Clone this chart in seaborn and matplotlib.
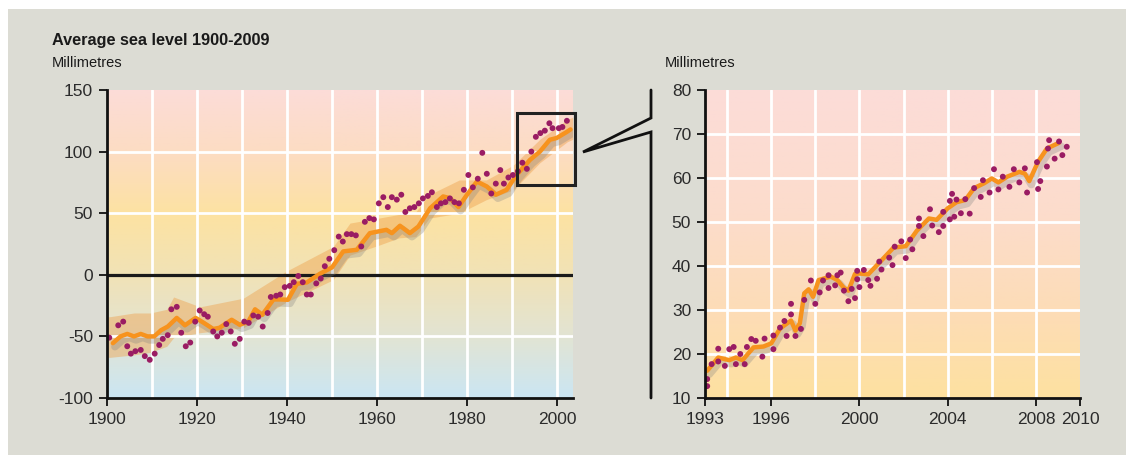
import numpy as np
import matplotlib
matplotlib.use('Agg')
import matplotlib.pyplot as plt
import matplotlib.patheffects as pe
from matplotlib.colors import LinearSegmentedColormap
from matplotlib.lines import Line2D
from matplotlib.patches import Rectangle
import seaborn as sns

sns.set_theme(style='white')
plt.rcParams['font.family'] = ['Liberation Sans', 'DejaVu Sans']
plt.rcParams['axes.unicode_minus'] = False

# ---------------- data: left panel (1900-2003) ----------------
gauge_years = [1900.5, 1902.5, 1903.6, 1904.5, 1905.3, 1906.3, 1907.5, 1908.4, 1909.5, 1910.6,
               1911.6, 1912.4, 1913.5, 1914.3, 1915.5, 1916.5, 1917.5, 1918.5, 1919.6, 1920.6,
               1921.6, 1922.4, 1923.6, 1924.5, 1925.5, 1926.5, 1927.5, 1928.4, 1929.5, 1930.5,
               1931.5, 1932.5, 1933.6, 1934.6, 1935.7, 1936.4, 1937.6, 1938.5, 1939.5, 1940.6,
               1941.5, 1942.5, 1943.5, 1944.4, 1945.3, 1946.5, 1947.5, 1948.4, 1949.4, 1950.5,
               1951.5, 1952.4, 1953.3, 1954.3, 1955.3, 1956.5, 1957.3, 1958.3, 1959.3, 1960.4,
               1961.4, 1962.4, 1963.3, 1964.4, 1965.4, 1966.3, 1967.3, 1968.3, 1969.3, 1970.2,
               1971.3, 1972.2, 1973.3, 1974.2, 1975.2, 1976.2, 1977.2, 1978.2, 1979.3, 1980.3,
               1981.3, 1982.4, 1983.4, 1984.4, 1985.4, 1986.4, 1987.4, 1988.2, 1989.2, 1990.2,
               1991.3, 1992.3, 1993.3, 1994.3, 1995.3, 1996.3, 1997.3, 1998.3, 1999.0, 2000.4,
               2001.2, 2002.2]
gauge_mm = [-51, -41, -38, -58, -64, -62, -61, -66, -69, -64,
            -57, -52, -49, -28, -26, -47, -58, -55, -38, -29,
            -32, -34, -46, -50, -47, -40, -46, -56, -52, -38,
            -39, -33, -34, -42, -31, -18, -17, -16, -10, -9,
            -6, -1, -6, -16, -16, -7, -3, 7, 13, 20,
            31, 27, 33, 33, 32, 23, 43, 46, 45, 58,
            63, 55, 63, 61, 65, 51, 54, 55, 58, 62,
            64, 67, 55, 58, 59, 62, 59, 58, 69, 81,
            71, 78, 99, 82, 66, 74, 85, 74, 79, 81,
            84, 91, 86, 100, 112, 115, 117, 123, 119, 119,
            120, 125]

smooth_years = [1901.3, 1903, 1904.5, 1906, 1907.5, 1909, 1910.5, 1912, 1913.5, 1915.5,
                1917.3, 1919.7, 1921.5, 1923.6, 1925, 1927.7, 1929.5, 1931.4, 1932.9, 1934.5,
                1937, 1938.5, 1940.2, 1942.2, 1944.4, 1947.3, 1950, 1952.5, 1955.5, 1958.4,
                1960, 1962.1, 1963.3, 1965.1, 1967.3, 1969.2, 1971.8, 1974.7, 1976.2, 1978.1,
                1980, 1982.2, 1984.4, 1986.4, 1988.8, 1991, 1994, 1996.2, 1998.4, 1999.9,
                2002.1, 2003]
smooth_mm = [-55.5, -50, -48, -50, -48, -50, -50, -45, -42, -35,
             -41, -35, -39, -44, -43, -36.5, -40.6, -38, -28, -32.5,
             -20, -20, -20.3, -7.3, -6.2, 0.8, 6, 19, 20.3, 33.8,
             35, 36.5, 33.8, 39.8, 33.8, 39.2, 54, 63.6, 62.2, 55,
             65, 75.7, 71.7, 65, 69, 81, 93.3, 100, 109.6, 111,
             115.8, 118]

band_years = [1900, 1900.7, 1906, 1909.6, 1913.3, 1914.8, 1920.7, 1930.3, 1939.9, 1950.3,
              1954, 1960.4, 1964.9, 1968.6, 1971.6, 1978.3, 1984.3, 1990.3, 1996.2, 2002.3, 2003.5]
band_hi = [-34, -34, -31, -31, -28, -18, -26, -19, 3, 23,
           42, 46, 49, 51, 65, 77, 77, 89, 110, 126, 128]
band_lo = [-67, -67, -65, -63, -58, -51, -47, -43, -22, -4,
           16, 24, 30, 31, 46, 50, 61, 69, 91, 108, 110]

# ---------------- data: right panel (satellite 1993-2009) ----------------
sat_years = [1993.1, 1993.1, 1993.3, 1993.6, 1993.6, 1993.9, 1994.1, 1994.3, 1994.4, 1994.6,
             1994.8, 1994.9, 1995.1, 1995.3, 1995.6, 1995.7, 1996.1, 1996.1, 1996.4, 1996.6,
             1996.7, 1996.9, 1996.9, 1997.1, 1997.35, 1997.5, 1997.8, 1998.0, 1998.2, 1998.35,
             1998.6, 1998.6, 1998.9, 1999.0, 1999.15, 1999.3, 1999.5, 1999.65, 1999.8, 1999.9,
             1999.9, 2000.0, 2000.2, 2000.4, 2000.5, 2000.8, 2000.9, 2001.0, 2001.35, 2001.5,
             2001.6, 2001.9, 2002.1, 2002.3, 2002.4, 2002.7, 2002.7, 2002.9, 2003.2, 2003.3,
             2003.6, 2003.8, 2003.8, 2004.1, 2004.1, 2004.2, 2004.3, 2004.4, 2004.6, 2004.8,
             2005.0, 2005.2, 2005.5, 2005.6, 2005.9, 2006.1, 2006.3, 2006.5, 2006.8, 2007.0,
             2007.25, 2007.5, 2007.6, 2008.05, 2008.1, 2008.2, 2008.5, 2008.55, 2008.6, 2008.85,
             2009.05, 2009.2, 2009.4]
sat_mm = [14.3, 12.7, 17.7, 18.3, 21.2, 17.3, 21.1, 21.6, 17.7, 20.0,
          17.7, 21.6, 23.4, 23.0, 19.4, 23.5, 24.2, 21.1, 26.0, 27.5,
          24.1, 29.0, 31.4, 24.1, 25.7, 32.3, 36.7, 31.4, 34.0, 36.7,
          35.0, 37.9, 35.6, 37.9, 38.5, 34.4, 32.0, 34.8, 32.7, 37.0,
          38.9, 35.2, 39.1, 36.8, 35.5, 37.1, 41.0, 39.2, 41.9, 40.2,
          44.4, 45.6, 41.8, 46.0, 43.8, 49.1, 50.8, 46.8, 52.9, 49.2,
          47.7, 49.1, 52.3, 50.6, 54.8, 56.4, 51.2, 55.1, 52.0, 55.2,
          51.9, 57.7, 55.7, 59.5, 56.7, 62.0, 57.4, 60.3, 58.0, 62.0,
          59.0, 62.2, 56.7, 63.6, 57.5, 59.3, 62.6, 66.7, 68.6, 64.4,
          68.3, 65.2, 67.1]

sat_smooth_years = [1993.1, 1993.6, 1994.1, 1994.4, 1994.7, 1995.2, 1995.65, 1996.0, 1996.4, 1996.9,
                    1997.1, 1997.3, 1997.5, 1997.7, 1997.9, 1998.15, 1998.7, 1999.0, 1999.3, 1999.5,
                    1999.8, 2000.0, 2000.4, 2000.95, 2001.55, 2002.1, 2002.6, 2003.15, 2003.5, 2004.0,
                    2004.4, 2004.8, 2005.2, 2005.65, 2006.0, 2006.3, 2006.7, 2007.25, 2007.5, 2007.7,
                    2008.1, 2008.5, 2009.05]
sat_smooth_mm = [16.2, 19.2, 18.6, 19.2, 18.6, 21.5, 21.7, 22.4, 25.8, 27.6,
                 25.3, 27.0, 33.8, 34.7, 33.0, 36.8, 37.6, 36.8, 35.0, 34.4,
                 38.2, 38.3, 38.1, 41.0, 44.2, 44.5, 48.0, 50.8, 50.5, 53.1,
                 54.5, 55.0, 57.7, 58.8, 59.9, 59.0, 60.3, 61.4, 61.0, 59.3,
                 63.7, 66.7, 68.0]

# axis ticks and grid positions
left_xticks = [1900, 1920, 1940, 1960, 1980, 2000]
left_xgrid = [1910, 1920, 1930, 1940, 1950, 1960, 1970, 1980, 1990, 2000]
left_yticks = [-100, -50, 0, 50, 100, 150]
left_ygrid = [-50, 50, 100]
right_xticks = [1993, 1996, 2000, 2004, 2008, 2010]
right_xgrid = [1994, 1996, 1998, 2000, 2002, 2004, 2006, 2008]
right_yticks = [10, 20, 30, 40, 50, 60, 70, 80]
right_ygrid = [20, 30, 40, 50, 60, 70]

# ---------------- style ----------------
DOT = '#9a1c63'
ORANGE = '#f7931e'
TXT = '#2b2b2b'
W, H = 1126, 455

left_cmap = LinearSegmentedColormap.from_list('left', [
    (0.0, '#cbe6f3'), (0.2, '#e2e4d3'), (0.4, '#f1e2b6'),
    (0.6, '#fde2a2'), (0.8, '#fcdcc3'), (1.0, '#fcdcd8')])
right_cmap = LinearSegmentedColormap.from_list('right', [
    (0.0, '#fde1a0'), (0.3, '#fddcb8'), (0.6, '#fcdccc'), (1.0, '#fcdcd8')])

shadow = [pe.SimpleLineShadow(offset=(1.5, -2.5), shadow_color='#808080', alpha=0.3, linewidth=5.5),
          pe.Normal()]

fig = plt.figure(figsize=(W / 100, H / 100), dpi=100)
fig.patch.set_facecolor('white')
fig.patches.append(Rectangle((8 / W, 0), 1 - 8 / W, 1 - 9 / H, transform=fig.transFigure,
                             facecolor='#dcdcd4', edgecolor='none', zorder=-10))

ax1 = fig.add_axes([107 / W, 57 / H, 466 / W, 308 / H])
ax2 = fig.add_axes([705 / W, 57 / H, 375 / W, 308 / H])

x1lim = (1900, 1900 + 466 / 4.5)
y1lim = (-100, 150)
x2lim = (1993, 2010)
y2lim = (10, 80)
grad = np.linspace(0, 1, 256).reshape(-1, 1)

# ---- left panel ----
ax1.imshow(grad, cmap=left_cmap, origin='lower', aspect='auto',
           extent=[x1lim[0], x1lim[1], y1lim[0], y1lim[1]], zorder=0)
ax1.fill_between(band_years, band_lo, band_hi, color='#eea24e', alpha=0.45, lw=0, zorder=1)
for gx in left_xgrid:
    ax1.axvline(gx, color='white', lw=2.0, zorder=2)
for gy in left_ygrid:
    ax1.axhline(gy, color='white', lw=2.0, zorder=2)
ax1.axhline(0, color='#1a1a1a', lw=2.3, zorder=3)
sns.lineplot(x=smooth_years, y=smooth_mm, ax=ax1, color=ORANGE, lw=3.2, sort=False,
             estimator=None, zorder=4, path_effects=shadow, solid_capstyle='round',
             solid_joinstyle='round')
sns.scatterplot(x=gauge_years, y=gauge_mm, ax=ax1, color=DOT, s=18, edgecolor='none',
                linewidth=0, zorder=5)
ax1.add_patch(Rectangle((1991.2, 73), 12.8, 58.5, fill=False, edgecolor='#222222', lw=2.2,
                        clip_on=False, zorder=6))
ax1.set_xlim(*x1lim)
ax1.set_ylim(*y1lim)
ax1.set_xticks(left_xticks)
ax1.set_yticks(left_yticks)

# ---- right panel ----
ax2.imshow(grad, cmap=right_cmap, origin='lower', aspect='auto',
           extent=[x2lim[0], x2lim[1], y2lim[0], y2lim[1]], zorder=0)
for gx in right_xgrid:
    ax2.axvline(gx, color='white', lw=2.0, zorder=2)
for gy in right_ygrid:
    ax2.axhline(gy, color='white', lw=2.0, zorder=2)
sns.lineplot(x=sat_smooth_years, y=sat_smooth_mm, ax=ax2, color=ORANGE, lw=3.2, sort=False,
             estimator=None, zorder=4, path_effects=shadow, solid_capstyle='round',
             solid_joinstyle='round')
sns.scatterplot(x=sat_years, y=sat_mm, ax=ax2, color=DOT, s=18, edgecolor='none',
                linewidth=0, zorder=5)
ax2.set_xlim(*x2lim)
ax2.set_ylim(*y2lim)
ax2.set_xticks(right_xticks)
ax2.set_yticks(right_yticks)

for ax in (ax1, ax2):
    ax.set_facecolor('none')
    ax.grid(False)
    for s in ('top', 'right'):
        ax.spines[s].set_visible(False)
    for s in ('left', 'bottom'):
        ax.spines[s].set_color('#111111')
        ax.spines[s].set_linewidth(2.0)
        ax.spines[s].set_zorder(6)
    ax.tick_params(which='major', direction='out', length=6, width=1.3, color='#111111',
                   labelsize=12.5, labelcolor=TXT, pad=4, left=True, bottom=True)
    ax.set_xlabel('')
    ax.set_ylabel('')

# ---- texts ----
fig.text(52 / W, 1 - 45 / H, 'Average sea level 1900-2009', fontsize=11.7, weight='bold',
         color='#1a1a1a', va='baseline')
fig.text(52 / W, 1 - 67 / H, 'Millimetres', fontsize=10.5, color='#1a1a1a', va='baseline')
fig.text(665 / W, 1 - 67 / H, 'Millimetres', fontsize=10.5, color='#1a1a1a', va='baseline')

# ---- zoom connector between panels ----
cx = [651, 651, 583, 651, 651]
cy = [90, 118, 152, 132, 398]
fig.add_artist(Line2D([v / W for v in cx], [1 - v / H for v in cy], transform=fig.transFigure,
                      color='#111111', lw=2.0, solid_joinstyle='miter'))

fig.savefig('out.png', dpi=100)
